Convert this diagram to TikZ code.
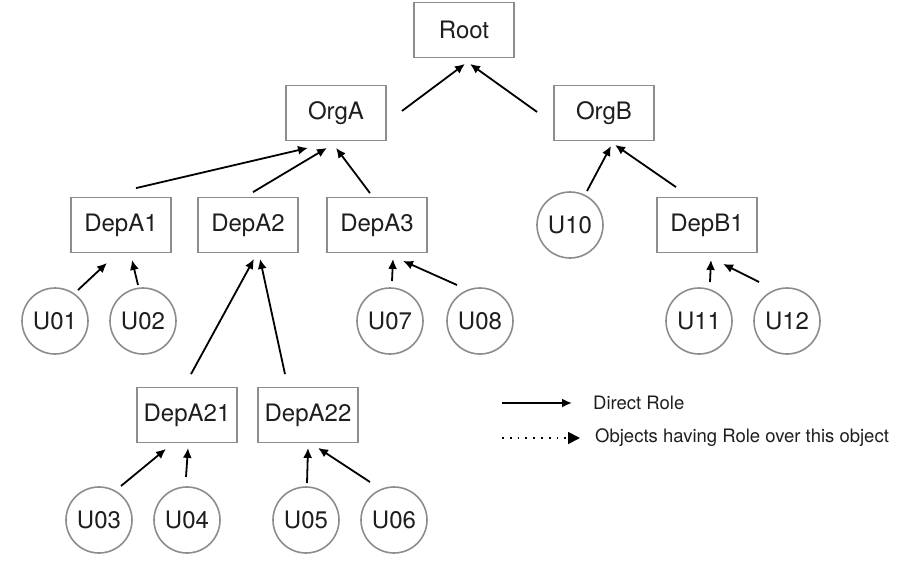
\documentclass[tikz,border=0pt]{standalone}
\usepackage{fontspec}
\setmainfont{TeX Gyre Heros}
\usetikzlibrary{arrows.meta}
\definecolor{edgegray}{RGB}{138,140,142}
\definecolor{inkgray}{RGB}{30,30,30}
\begin{document}
\begin{tikzpicture}[x=1pt,y=-1pt]
\tikzstyle{orgbox}=[draw=edgegray,line width=1.8pt,rectangle,minimum width=100pt,minimum height=55pt,inner sep=0pt,text=inkgray,font=\fontsize{24}{28}\selectfont]
\tikzstyle{user}=[draw=edgegray,line width=1.6pt,circle,minimum size=66pt,inner sep=0pt,text=inkgray,font=\fontsize{24}{28}\selectfont]
\tikzstyle{role}=[line width=1.8pt,-{Latex[length=10pt,width=9pt]}]
\tikzstyle{legendtext}=[anchor=west,inner sep=0pt,text=inkgray,font=\fontsize{18.5}{22}\selectfont]
\useasboundingbox (0,0) rectangle (918,571);
\draw (464,30) node[orgbox] (root) {Root};
\draw (336,113) node[orgbox] (orgA) {OrgA};
\draw (604,113) node[orgbox] (orgB) {OrgB};
\draw (121,225) node[orgbox] (depA1) {DepA1};
\draw (248,225) node[orgbox] (depA2) {DepA2};
\draw (377,225) node[orgbox] (depA3) {DepA3};
\draw (707,225) node[orgbox] (depB1) {DepB1};
\draw (570,225) node[user] (u10) {U10};
\draw (55,321) node[user] (u01) {U01};
\draw (143,321) node[user] (u02) {U02};
\draw (390,321) node[user] (u07) {U07};
\draw (480,321) node[user] (u08) {U08};
\draw (699,321) node[user] (u11) {U11};
\draw (787,321) node[user] (u12) {U12};
\draw (187,415) node[orgbox] (depA21) {DepA21};
\draw (308,415) node[orgbox] (depA22) {DepA22};
\draw (99,520) node[user] (u03) {U03};
\draw (187,520) node[user] (u04) {U04};
\draw (306,520) node[user] (u05) {U05};
\draw (394,520) node[user] (u06) {U06};
\draw[role] ([shift={(15,-2)}]orgA.east) -- ([shift={(1,5.5)}]root.south);
\draw[role] ([shift={(-16,-1)}]orgB.west) -- ([shift={(6,5.5)}]root.south);
\draw[role] ([shift={(15,-8.5)}]depA1.north) -- ([shift={(-28,6.5)}]orgA.south);
\draw[role] ([shift={(5,-4.5)}]depA2.north) -- ([shift={(-9,6.5)}]orgA.south);
\draw[role] ([shift={(-7,-3.5)}]depA3.north) -- ([shift={(0,6.5)}]orgA.south);
\draw[role] ([shift={(17,-34)}]u10.center) -- ([shift={(7,4.5)}]orgB.south);
\draw[role] ([shift={(-31,-9.5)}]depB1.north) -- ([shift={(11,3.5)}]orgB.south);
\draw[role] ([shift={(23,-31)}]u01.center) -- ([shift={(-14,9.5)}]depA1.south);
\draw[role] ([shift={(-5,-36)}]u02.center) -- ([shift={(11,6.5)}]depA1.south);
\draw[role] ([shift={(4,-12.5)}]depA21.north) -- ([shift={(6,5.5)}]depA2.south);
\draw[role] ([shift={(-23,-12.5)}]depA22.north) -- ([shift={(12,5.5)}]depA2.south);
\draw[role] ([shift={(22,-34)}]u03.center) -- ([shift={(-21,5.5)}]depA21.south);
\draw[role] ([shift={(-1,-43)}]u04.center) -- ([shift={(1,4.5)}]depA21.south);
\draw[role] ([shift={(1,-37)}]u05.center) -- ([shift={(0,4.5)}]depA22.south);
\draw[role] ([shift={(-24,-38)}]u06.center) -- ([shift={(10,4.5)}]depA22.south);
\draw[role] ([shift={(2,-40)}]u07.center) -- ([shift={(16,5.5)}]depA3.south);
\draw[role] ([shift={(-23,-36)}]u08.center) -- ([shift={(26,7.5)}]depA3.south);
\draw[role] ([shift={(11,-39)}]u11.center) -- ([shift={(4,6.5)}]depB1.south);
\draw[role] ([shift={(-28,-39)}]u12.center) -- ([shift={(16,10.5)}]depB1.south);
\coordinate (directA) at (502,403);
\coordinate (directB) at (572,403);
\coordinate (overA) at (502,438);
\coordinate (overB) at (580,438);
\draw[role] (directA) -- (directB);
\draw[line width=1.8pt,dash pattern=on 1.8pt off 6pt,-{Triangle[length=12pt,width=12pt]}] (overA) -- (overB);
\draw (593,403) node[legendtext] (directtext) {Direct Role};
\draw (595,438) node[legendtext] (overtext) {Objects having Role over this object};
\end{tikzpicture}
\end{document}
